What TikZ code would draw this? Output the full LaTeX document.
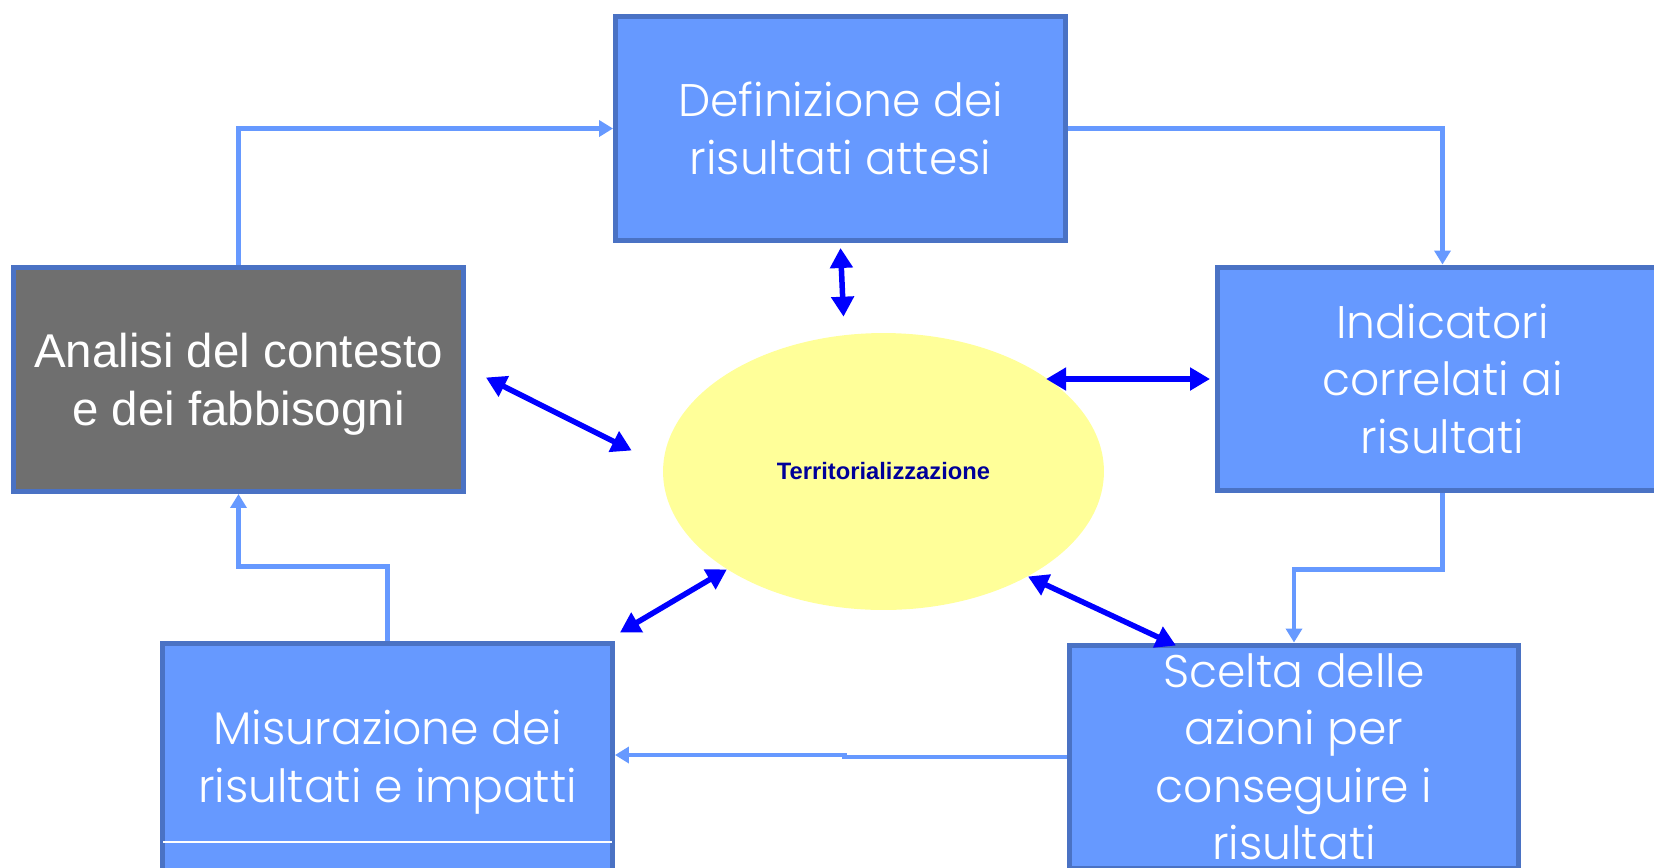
\documentclass[tikz,border=0pt]{standalone}
\usepackage{fontspec}
\setmainfont{Liberation Sans}
\newfontfamily\gothic[UprightFont=* Light]{Poppins}
\usetikzlibrary{arrows.meta,shapes.geometric}
\definecolor{boxblue}{HTML}{6699FF}
\definecolor{boxedge}{HTML}{4A72C4}
\definecolor{boxgray}{HTML}{6F6F6F}
\definecolor{ovalyellow}{HTML}{FFFF99}
\definecolor{navy}{HTML}{000099}
\definecolor{linkblue}{HTML}{6699FF}

\begin{document}
\begin{tikzpicture}[x=0.02cm,y=-0.02cm,>={Triangle[length=0.4cm,width=0.44cm]},
    box/.style={draw=boxedge,line width=0.1cm,fill=boxblue,text=white,
      minimum width=9cm,minimum height=4.48cm,inner sep=0pt,align=center,
      font=\gothic\fontsize{26}{32.7}\selectfont},
    link/.style={linkblue,line width=0.09cm,-{Triangle[length=0.28cm,width=0.32cm]}},
    both/.style={blue,line width=0.11cm,<->}]
  \useasboundingbox (0,0) rectangle (1654,867);
  \node [box] (def) at (840.5,128.5) {Definizione dei\\risultati attesi};
  \node [box] (ind) at (1442.5,379) {Indicatori\\correlati ai\\risultati};
  \node [box,fill=boxgray,text depth=0pt,font=\fontsize{27}{33}\selectfont] (ana) at (238.5,379.5)
        {Analisi del contesto\\e dei fabbisogni};
  \node [box] (sce) at (1294,757) {Scelta delle\\azioni per\\conseguire i\\risultati};
  \node [box,minimum height=4.76cm] (mis) at (387.5,762) {Misurazione dei\\risultati e impatti};
  \draw [white,line width=0.03cm] ([shift={(3,80)}]mis.west) -- ([shift={(-3,80)}]mis.east);
  \node [ellipse,fill=ovalyellow,minimum width=8.82cm,minimum height=5.54cm,inner sep=0pt,
        text=navy,font=\bfseries\fontsize{13.5}{16}\selectfont] (ell) at (883.5,471.5)
        {Territorializzazione};
  \draw [link] (ana.north) |- (def.west);
  \draw [link] (def.east) -| (ind.north);
  \draw [link] (ind.south) -- ++(0,76) -| (sce.north);
  \draw [link] (sce.west) -- ++(-222,0) |- ([shift={(0,-7)}]mis.east);
  \draw [link] (mis.north) -- ++(0,-74) -| (ana.south);
  \draw [both] ([shift={(0,5)}]def.south) -- ([shift={(-40,-16)}]ell.north);
  \draw [both] (ell.30 |- ind.west) -- ([shift={(-5,0)}]ind.west);
  \draw [both] ([shift={(20,-2)}]ana.east) -- ([shift={(-31,-21)}]ell.west);
  \draw [both] ([shift={(5,-8)}]mis.north east) -- (ell.212);
  \draw [both] (ell.-36) -- ([shift={(-118,3)}]sce.north);
\end{tikzpicture}
\end{document}
